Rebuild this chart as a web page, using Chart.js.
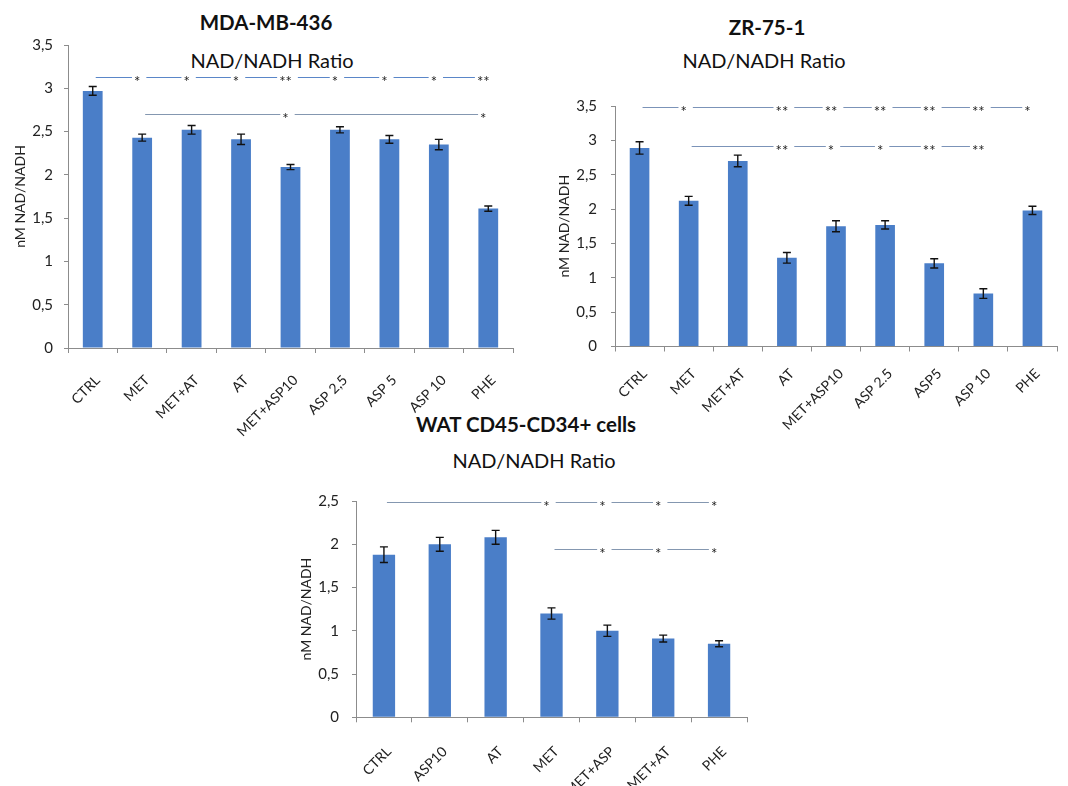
<!DOCTYPE html>
<html><head><meta charset="utf-8">
<script src="https://cdn.jsdelivr.net/npm/chart.js@4.4.1/dist/chart.umd.min.js"></script>
<style>
html,body{margin:0;padding:0;background:#fff;}
#wrap{position:relative;width:1068px;height:786px;overflow:hidden;font-family:Lato,sans-serif;background:#fff;}
.t{position:absolute;transform:translate(-50%,-50%);white-space:nowrap;color:#111;line-height:1;}
.b{font-weight:bold;font-size:20.5px;}
.s{font-size:20px;}
canvas{position:absolute;}
</style></head>
<body><div id="wrap">
<div class="t b" style="left:266px;top:22px">MDA-MB-436</div>
<div class="t s" style="left:272px;top:60px">NAD/NADH Ratio</div>
<div class="t b" style="left:767px;top:27px">ZR-75-1</div>
<div class="t s" style="left:764px;top:60px">NAD/NADH Ratio</div>
<div class="t b" style="left:526px;top:424px">WAT CD45-CD34+ cells</div>
<div class="t s" style="left:534px;top:460px">NAD/NADH Ratio</div>
<canvas id="k1" width="530" height="440" style="left:0;top:0"></canvas>
<canvas id="k2" width="528" height="440" style="left:540px;top:0"></canvas>
<canvas id="k3" width="480" height="356" style="left:280px;top:430px"></canvas>
</div>
<script>
// ---- data ----
const mdaCategories = ["CTRL","MET","MET+AT","AT","MET+ASP10","ASP 2,5","ASP 5","ASP 10","PHE"];
const mdaValues = [2.97,2.43,2.52,2.41,2.09,2.52,2.41,2.35,1.61];
const mdaErrors = [0.05,0.04,0.05,0.06,0.03,0.035,0.045,0.06,0.03];
const mdaSigLevels = [3.13, 2.70];
const mdaSigFrom = [0, 1];
const mdaSigTo = [[1,2,3,4,5,6,7,8],[4,8]];
const mdaSigMarks = [["*","*","*","**","*","*","*","**"],["*","*"]];

const zrCategories = ["CTRL","MET","MET+AT","AT","MET+ASP10","ASP 2.5","ASP5","ASP 10","PHE"];
const zrValues = [2.89,2.12,2.70,1.29,1.75,1.77,1.21,0.77,1.98];
const zrErrors = [0.09,0.065,0.085,0.077,0.08,0.06,0.067,0.07,0.06];
const zrSigLevels = [3.49, 2.92];
const zrSigFrom = [0, 1];
const zrSigTo = [[1,3,4,5,6,7,8],[3,4,5,6,7]];
const zrSigMarks = [["*","**","**","**","**","**","*"],["**","*","*","**","**"]];

const watCategories = ["CTRL","ASP10","AT","MET","MET+ASP","MET+AT","PHE"];
const watValues = [1.88,2.00,2.08,1.20,1.00,0.91,0.85];
const watErrors = [0.09,0.08,0.08,0.065,0.065,0.04,0.035];
const watSigLevels = [2.49, 1.94];
const watSigFrom = [0, 3];
const watSigTo = [[3,4,5,6],[4,5,6]];
const watSigMarks = [["*","*","*","*"],["*","*","*"]];

const yAxisTitle = "nM NAD/NADH";

// ---- plugins ----
const errorBars = {
  id: 'errorBars',
  afterDatasetsDraw(chart) {
    const errs = chart.options.plugins.errorBars.errors;
    const ys = chart.scales.y, ctx = chart.ctx;
    const meta = chart.getDatasetMeta(0);
    ctx.save();
    ctx.strokeStyle = '#111'; ctx.lineWidth = 1.4;
    meta.data.forEach((bar, i) => {
      const v = chart.data.datasets[0].data[i];
      const top = ys.getPixelForValue(v + errs[i]);
      const bot = ys.getPixelForValue(v - errs[i]);
      const x = bar.x;
      ctx.beginPath();
      ctx.moveTo(x, top); ctx.lineTo(x, bot);
      ctx.moveTo(x - 4, top); ctx.lineTo(x + 4, top);
      ctx.moveTo(x - 4, bot); ctx.lineTo(x + 4, bot);
      ctx.stroke();
    });
    ctx.restore();
  }
};

const sigMarks = {
  id: 'sigMarks',
  afterDatasetsDraw(chart) {
    const o = chart.options.plugins.sigMarks;
    const xs = chart.scales.x, ys = chart.scales.y, ctx = chart.ctx;
    ctx.save();
    ctx.font = '15px Lato';
    ctx.textAlign = 'center';
    ctx.textBaseline = 'middle';
    o.levels.forEach((lvl, r) => {
      const y = Math.round(ys.getPixelForValue(lvl)) + 0.5;
      let prev = xs.getPixelForValue(o.from[r]) + 3;
      ctx.strokeStyle = o.colors[r];
      ctx.lineWidth = 1;
      o.to[r].forEach((t, k) => {
        const m = o.marks[r][k];
        const sx = xs.getPixelForValue(t) - 5;
        const w = ctx.measureText(m).width;
        ctx.beginPath();
        ctx.moveTo(prev, y); ctx.lineTo(sx - w / 2 - 2, y);
        ctx.stroke();
        ctx.fillStyle = '#222';
        ctx.fillText(m, sx, y + 5);
        prev = sx + w / 2 + 6;
      });
    });
    ctx.restore();
  }
};

function makeChart(id, cats, vals, errs, sig, o) {
  return new Chart(document.getElementById(id), {
    type: 'bar',
    data: { labels: cats, datasets: [{ data: vals, backgroundColor: '#4a7ec8', borderWidth: 0,
      barPercentage: 0.4, categoryPercentage: 1 }] },
    options: {
      responsive: false, animation: false,
      layout: { padding: { left: 0, right: o.right, top: o.top, bottom: 0 } },
      plugins: { legend: { display: false }, tooltip: { enabled: false },
        errorBars: { errors: errs }, sigMarks: sig },
      scales: {
        x: {
          grid: { drawOnChartArea: false, color: '#8c8c8c', tickLength: 5, offset: true },
          border: { color: '#8c8c8c' },
          ticks: { autoSkip: false, maxRotation: 45, minRotation: 45, color: '#222',
            font: { family: 'Lato', size: 14 }, padding: o.xp, labelOffset: 5 },
          afterFit: s => { s.height = o.xh; }
        },
        y: {
          min: 0, max: o.max,
          grid: { drawOnChartArea: false, color: '#8c8c8c', tickLength: 4 },
          border: { color: '#8c8c8c' },
          ticks: { stepSize: 0.5, color: '#222', font: { family: 'Lato', size: 15 }, padding: o.tp,
            callback: v => String(v).replace('.', ',') },
          title: { display: true, text: yAxisTitle, color: '#222', font: { family: 'Lato', size: 14 },
            padding: { top: o.titlePad, bottom: 0 } },
          afterFit: s => { s.width = o.yw; }
        }
      }
    },
    plugins: [errorBars, sigMarks]
  });
}

function init() {
  makeChart('k1', mdaCategories, mdaValues, mdaErrors,
    { levels: mdaSigLevels, from: mdaSigFrom, to: mdaSigTo, marks: mdaSigMarks, colors: ['#5a86c8', '#8497b0'] },
    { right: 17, top: 45, xh: 92, yw: 68, max: 3.5, tp: 11, titlePad: 12, xp: 19 });
  makeChart('k2', zrCategories, zrValues, zrErrors,
    { levels: zrSigLevels, from: zrSigFrom, to: zrSigTo, marks: zrSigMarks, colors: ['#7b93b8', '#7b93b8'] },
    { right: 11, top: 106, xh: 93.5, yw: 75, max: 3.5, tp: 14, titlePad: 16, xp: 14 });
  makeChart('k3', watCategories, watValues, watErrors,
    { levels: watSigLevels, from: watSigFrom, to: watSigTo, marks: watSigMarks, colors: ['#8497b0', '#8497b0'] },
    { right: 13, top: 71, xh: 68.7, yw: 76, max: 2.5, tp: 13, titlePad: 18, xp: 21 });
}
let started = false;
function start() { if (!started) { started = true; init(); } }
if (document.fonts && document.fonts.load) {
  Promise.all([document.fonts.load('13px Lato'), document.fonts.load('bold 20px Lato')]).then(start, start);
  setTimeout(start, 1500);
} else start();
</script>
</body></html>
